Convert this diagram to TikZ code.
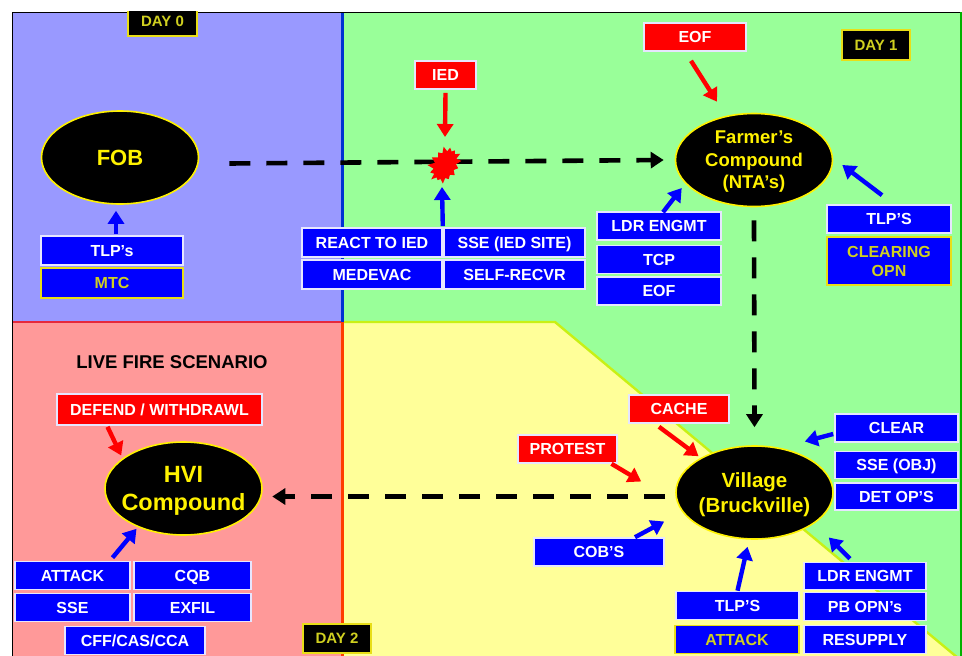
\documentclass[tikz,border=0pt]{standalone}
\usepackage{fontspec}
\setmainfont{Liberation Sans}
\usetikzlibrary{calc, arrows.meta, shapes.geometric, shapes.symbols}

\definecolor{paneblue}{HTML}{9999FF}
\definecolor{panegreen}{HTML}{99FF99}
\definecolor{panered}{HTML}{FF9999}
\definecolor{paneyellow}{HTML}{FFFF99}
\definecolor{taskblue}{HTML}{0000FF}
\definecolor{taskedge}{HTML}{E6E6FF}
\definecolor{dimyellow}{HTML}{D0D020}

\tikzset{
	dims/.style 2 args={minimum width=#1pt, minimum height=#2pt},
	task/.style={rectangle, draw=taskedge, fill=taskblue, text=white, line width=1.6pt, inner sep=0pt, align=center, text height=11.5pt, text depth=0pt, font=\bfseries\fontsize{16}{20}\selectfont},
	tasklead/.style={task, draw=yellow!90!black, text=dimyellow},
	threat/.style={task, fill=red},
	daytag/.style={rectangle, draw=yellow!90!black, fill=black, text=dimyellow, line width=1.6pt, inner sep=0pt, font=\bfseries\fontsize{15}{18}\selectfont},
	site/.style={ellipse, draw=yellow, fill=black, text=yellow, line width=1.6pt, inner sep=-10pt, text depth=0pt, align=center, minimum width=157pt, minimum height=93pt},
	bluearrow/.style={-{Triangle[length=13pt,width=16pt]}, taskblue, line width=4.4pt},
	redarrow/.style={-{Triangle[length=13pt,width=16pt]}, red, line width=4.4pt},
	routearrow/.style={-{Triangle[length=13pt,width=16pt]}, black, line width=4.6pt, dash pattern=on 21pt off 16pt}
}

\begin{document}
\begin{tikzpicture}[x=1pt,y=-1pt]

	\useasboundingbox (0,0) rectangle (962,656);

	\begin{scope}
		\clip (11,11) rectangle (962,656);

		% phases
		\fill[panegreen] (12,12) rectangle (961,656);
		\fill[paneblue] (12,12) rectangle (342,322);
		\fill[panered] (12,322) rectangle (342,656);
		\fill[paneyellow] (342,322) -- (555,322) -- (958,658) -- (342,658) -- cycle;

		\draw[line width=2.4pt, color={rgb,255:red,200;green,240;blue,20}] (342,322) -- (555,322) -- (958,658);
		\draw[line width=2.6pt, color={rgb,255:red,230;green,40;blue,60}] (12,322) -- (342,322);
		\draw[line width=3pt, color={rgb,255:red,0;green,50;blue,210}] (342,12) -- (342,322);
		\draw[line width=3pt, color={rgb,255:red,255;green,60;blue,0}] (342,322) -- (342,656);
		\draw[line width=1pt] (12,656) -- (12,12) -- (961,12);
		\draw[line width=2pt, green!70!black] (960.5,12) -- (960.5,656);

		% places
		\node[site, font=\bfseries\fontsize{22}{26}\selectfont] (fob) at (120,157.5) {FOB};
		\node[site, font=\bfseries\fontsize{18.5}{22.5}\selectfont] (farmer) at (754,160) {Farmer's\\Compound\\(NTA's)};
		\node[site, font=\bfseries\fontsize{23.5}{28.5}\selectfont] (hvi) at (183.5,488.5) {HVI\\Compound};
		\node[site, font=\bfseries\fontsize{20.5}{25}\selectfont] (village) at (754.5,492.5) {Village\\(Bruckville)};

		% day tags
		\node[daytag, dims={69}{30}] (dayzero) at (162.5,21) {DAY 0};
		\node[daytag, dims={68}{30}] (dayone) at (876,45) {DAY 1};
		\node[daytag, dims={68}{29}] (daytwo) at (337,638.5) {DAY 2};

		\node[font=\bfseries\fontsize{18.5}{20}\selectfont, text=black] (livefire) at (172,362) {LIVE FIRE SCENARIO};

		% threats
		\node[threat, dims={61}{28}] (iedtag) at (445.5,75) {IED};
		\node[threat, dims={102}{28}] (eoftag) at (695,37) {EOF};
		\node[threat, dims={205}{31}] (defendtag) at (159.5,409.5) {DEFEND / WITHDRAWL};
		\node[threat, dims={100}{28}] (cachetag) at (679,409) {CACHE};
		\node[threat, dims={99}{28}] (protesttag) at (567.5,449) {PROTEST};

		% tasks at the FOB
		\node[task, dims={142}{29}] (fobtlp) at (112,250.5) {TLP's};
		\node[tasklead, dims={142}{30}] (fobmtc) at (112,283) {MTC};

		% tasks at the IED site
		\node[task, dims={140}{29}] (react) at (372,242.5) {REACT TO IED};
		\node[task, dims={140}{29}] (medevac) at (372,274.5) {MEDEVAC};
		\node[task, dims={141}{29}] (ssesite) at (514.5,242.5) {SSE (IED SITE)};
		\node[task, dims={141}{29}] (selfrecvr) at (514.5,274.5) {SELF-RECVR};

		% tasks at the farmer's compound
		\node[task, dims={124}{28}] (ldrfarm) at (659,226) {LDR ENGMT};
		\node[task, dims={124}{28}] (tcpfarm) at (659,259.5) {TCP};
		\node[task, dims={124}{28}] (eoffarm) at (659,291) {EOF};
		\node[task, dims={124}{28}] (tlpfarm) at (889,219) {TLP'S};
		\node[tasklead, dims={124}{48}, text height=30pt, font=\bfseries\fontsize{16}{18.5}\selectfont] (clearing) at (889,261) {CLEARING\\OPN};

		% tasks at the village
		\node[task, dims={123}{28}] (clear) at (896.5,428) {CLEAR};
		\node[task, dims={123}{27}] (ssevillage) at (896.5,465) {SSE (OBJ)};
		\node[task, dims={123}{27}] (detop) at (896.5,496.5) {DET OP'S};
		\node[task, dims={130}{28}] (cob) at (599,552) {COB'S};
		\node[task, dims={123}{28}] (tlpvillage) at (737.5,605.5) {TLP'S};
		\node[tasklead, dims={124}{28}] (attackvillage) at (737,639.5) {ATTACK};
		\node[task, dims={122}{27}] (ldrvillage) at (865,576) {LDR ENGMT};
		\node[task, dims={122}{28}] (pbopn) at (865,606.5) {PB OPN's};
		\node[task, dims={122}{28}] (resupply) at (865,639.5) {RESUPPLY};

		% tasks at the HVI compound
		\node[task, dims={115}{28}] (attackhvi) at (72.5,575.5) {ATTACK};
		\node[task, dims={117}{28}] (cqb) at (192.5,575.5) {CQB};
		\node[task, dims={115}{28}] (ssehvi) at (72.5,607.5) {SSE};
		\node[task, dims={117}{28}] (exfil) at (192.5,607.5) {EXFIL};
		\node[task, dims={140}{28}] (cffcas) at (135,640.5) {CFF/CAS/CCA};

		% route
		\draw[routearrow] ($(fob.east)+(30,6)$) -- ($(farmer.west)+(-11,0)$);
		\draw[routearrow] ($(farmer.south)+(0,13)$) -- ($(village.north)+(0,-18)$);
		\draw[routearrow] ($(village.west)+(-10,4)$) -- ($(hvi.east)+(9.5,8)$);
		\node[starburst, starburst points=15, starburst point height=7pt, random starburst=11, rotate=60, fill=red, draw=none, inner sep=0pt, minimum width=44pt, minimum height=34pt] (blast) at (445,165) {};

		% threats onto places
		\draw[redarrow] ($(iedtag.south)+(0,3)$) -- ($(blast.center)+(0,-28)$);
		\draw[redarrow] ($(eoftag.south)+(-4,9)$) -- ($(farmer.north)+(-37,-11)$);
		\draw[redarrow] ($(cachetag.south)+(-20,3)$) -- ($(village.north)+(-56,11)$);
		\draw[redarrow] ($(protesttag.south)+(44,0)$) -- ($(village.west)+(-34,-11)$);
		\draw[redarrow] ($(defendtag.south)+(-52,1)$) -- ($(hvi.west)+(17,-33)$);

		% tasks onto places
		\draw[bluearrow] ($(fobtlp.north)+(4,-1)$) -- ($(fob.south)+(-4,6)$);
		\draw[bluearrow] ($(react.north east)+(0,-1)$) -- ($(blast.center)+(-3,22)$);
		\draw[bluearrow] ($(ldrfarm.north)+(4,1)$) -- ($(farmer.west)+(7,28)$);
		\draw[bluearrow] ($(tlpfarm.north)+(-7,-9)$) -- ($(farmer.east)+(9,5)$);
		\draw[bluearrow] ($(clear.west)+(-1,6)$) -- ($(village.east)+(-29,-51)$);
		\draw[bluearrow] ($(cob.north)+(36,0)$) -- ($(village.west)+(-11,29)$);
		\draw[bluearrow] (tlpvillage.north) -- ($(village.south)+(-7,7)$);
		\draw[bluearrow] ($(ldrvillage.north)+(-15,-3)$) -- ($(village.east)+(-5,45)$);
		\draw[bluearrow] ($(attackhvi.north)+(40,-3)$) -- ($(hvi.south)+(-47,-7)$);

	\end{scope}

\end{tikzpicture}
\end{document}
